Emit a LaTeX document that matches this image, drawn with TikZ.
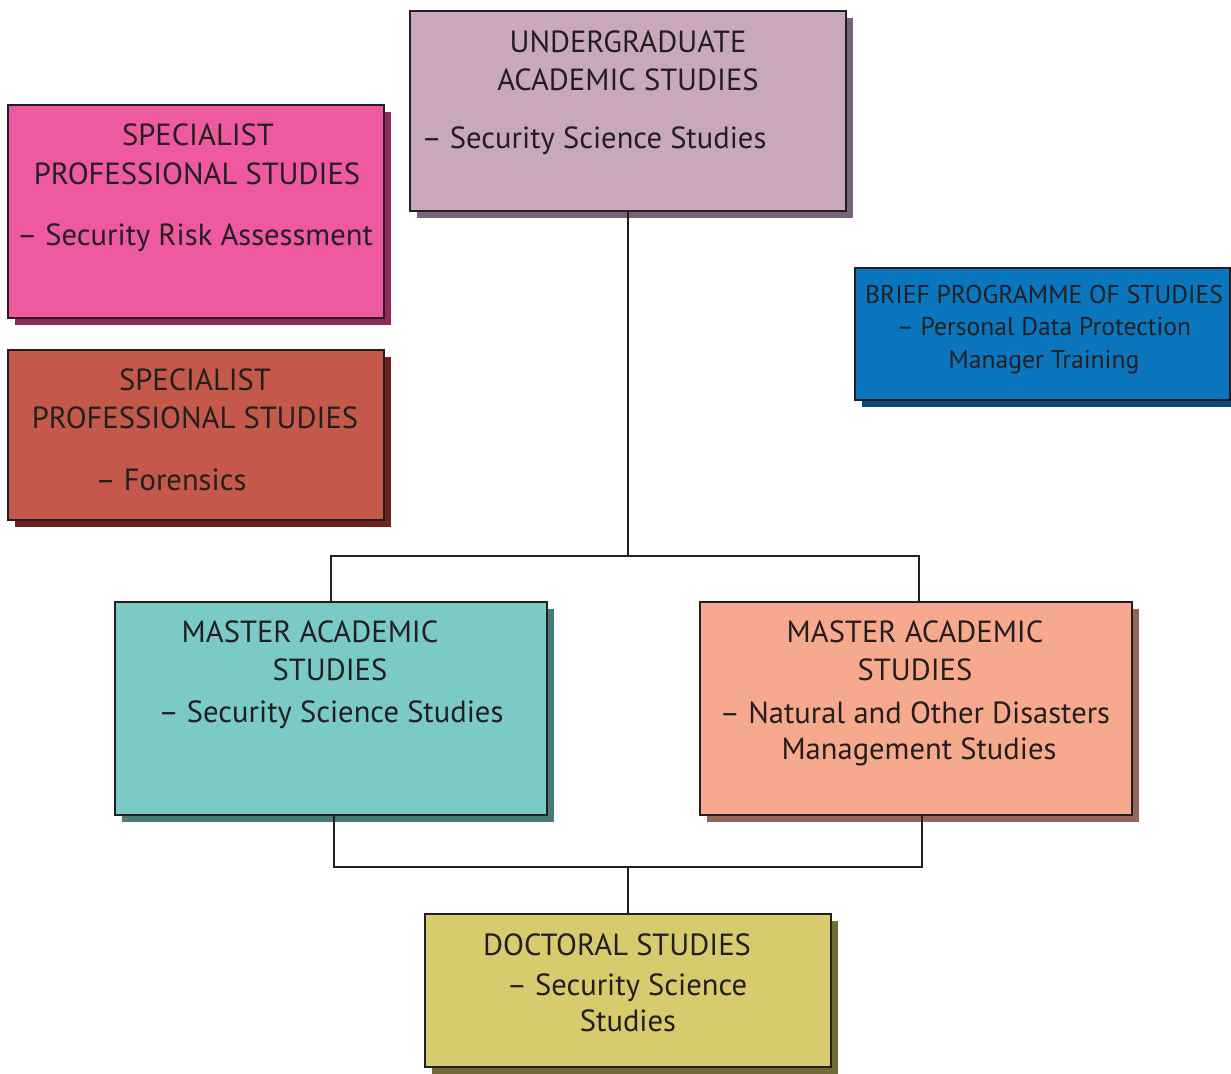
\documentclass[tikz,border=0pt]{standalone}
\usepackage{fontspec}
\setmainfont{PT Sans}
\usetikzlibrary{fit}
\definecolor{linec}{HTML}{231F20}
\definecolor{ugfill}{HTML}{C9A7BF}\definecolor{ugsh}{HTML}{78647A}
\definecolor{pkfill}{HTML}{EF59A0}\definecolor{pksh}{HTML}{8E2B5E}
\definecolor{rdfill}{HTML}{C4594B}\definecolor{rdsh}{HTML}{6B231C}
\definecolor{blfill}{HTML}{0A76BE}\definecolor{blsh}{HTML}{064A75}
\definecolor{tlfill}{HTML}{7ACAC5}\definecolor{tlsh}{HTML}{467C78}
\definecolor{slfill}{HTML}{F7A98D}\definecolor{slsh}{HTML}{956555}
\definecolor{ylfill}{HTML}{D8CB6E}\definecolor{ylsh}{HTML}{716B38}
\begin{document}
\begin{tikzpicture}[x=0.02cm,y=-0.02cm,
  boxnode/.style={draw=linec, line width=0.8pt, inner sep=0pt},
  conn/.style={draw=linec, line width=0.7pt},
  txt/.style={anchor=base, text=linec, inner sep=0pt, font=\fontsize{17.4}{21}\selectfont},
  smalltxt/.style={txt, font=\fontsize{14.6}{18}\selectfont}]
\useasboundingbox (0,0) rectangle (1231,1073);
% shadows
\fill[ugsh] (417,18) rectangle (853,218);
\fill[pksh] (15,112) rectangle (391,325);
\fill[rdsh] (15,357) rectangle (391,527);
\fill[blsh] (862,275) rectangle (1231,407);
\fill[tlsh] (122,609) rectangle (554,822);
\fill[slsh] (707,609) rectangle (1139,822);
\fill[ylsh] (432,921) rectangle (838,1074);
% boxes
\node[boxnode, fill=ugfill, fit={(410,11) (846,211)}] (ug) {};
\node[boxnode, fill=pkfill, fit={(8,105) (384,318)}] (sp1) {};
\node[boxnode, fill=rdfill, fit={(8,350) (384,520)}] (sp2) {};
\node[boxnode, fill=blfill, fit={(855,268) (1230,400)}] (br) {};
\node[boxnode, fill=tlfill, fit={(115,602) (547,815)}] (mL) {};
\node[boxnode, fill=slfill, fit={(700,602) (1132,815)}] (mR) {};
\node[boxnode, fill=ylfill, fit={(425,914) (831,1067)}] (doc) {};
% texts
\node[txt] (ug1) at (628,52) {UNDERGRADUATE};
\node[txt] (ug2) at (628,90) {ACADEMIC STUDIES};
\node[txt] (ug3) at (594,148) {– Security Science Studies};
\node[txt] (sa1) at (198,145) {SPECIALIST};
\node[txt] (sa2) at (197,184) {PROFESSIONAL STUDIES};
\node[txt] (sa3) at (195,245) {– Security Risk Assessment};
\node[txt] (sb1) at (195,390) {SPECIALIST};
\node[txt] (sb2) at (195,428) {PROFESSIONAL STUDIES};
\node[txt] (sb3) at (171,490) {– Forensics};
\node[smalltxt] (br1) at (1044,303) {BRIEF PROGRAMME OF STUDIES};
\node[smalltxt] (br2) at (1044,335) {– Personal Data Protection};
\node[smalltxt] (br3) at (1044,368) {Manager Training};
\node[txt] (ml1) at (310,642) {MASTER ACADEMIC};
\node[txt] (ml2) at (330,680) {STUDIES};
\node[txt] (ml3) at (331,722) {– Security Science Studies};
\node[txt] (mr1) at (915,642) {MASTER ACADEMIC};
\node[txt] (mr2) at (915,680) {STUDIES};
\node[txt] (mr3) at (915,723) {– Natural and Other Disasters};
\node[txt] (mr4) at (919,759) {Management Studies};
\node[txt] (dc1) at (617,955) {DOCTORAL STUDIES};
\node[txt] (dc2) at (627,995) {– Security Science};
\node[txt] (dc3) at (628,1031) {Studies};
% connectors
\coordinate (j1) at (628,556);
\coordinate (j2) at (628,867);
\draw[conn] (ug.south) -- (j1);
\draw[conn] (mL.north) |- (j1) -| ([xshift=0.06cm]mR.north);
\draw[conn] ([xshift=0.06cm]mL.south) |- (j2) -| ([xshift=0.12cm]mR.south);
\draw[conn] (j2) -- (doc.north);
\end{tikzpicture}
\end{document}
